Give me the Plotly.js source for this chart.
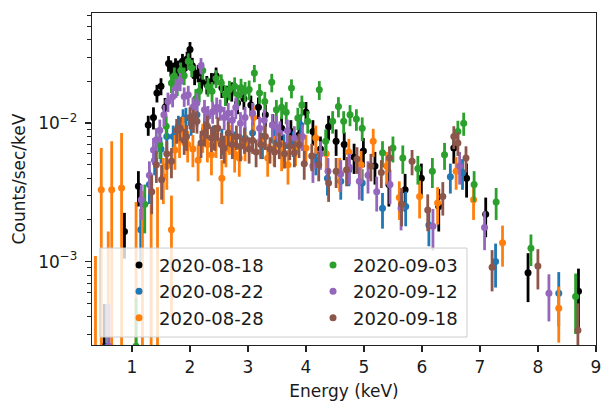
<!DOCTYPE html>
<html>
<head>
<meta charset="utf-8">
<script src="https://cdn.plot.ly/plotly-3.0.1.min.js"></script>
<style>html,body{margin:0;padding:0;background:#fff;}#chart{width:601px;height:402px;}</style>
</head>
<body>
<div id="chart"></div>
<script>
// Series labels (observation dates) and colours
const labels = ["2020-08-18", "2020-08-22", "2020-08-28", "2020-09-03", "2020-09-12", "2020-09-18"];

// 2020-08-18
const e0818 = [0.52,0.87,1.11,1.28,1.37,1.43,1.50,1.57,1.63,1.67,1.71,1.75,1.79,1.83,1.87,1.91,1.95,2.00,2.04,2.08,2.14,2.20,2.29,2.37,2.45,2.55,2.63,2.72,2.82,2.93,3.05,3.18,3.30,3.43,3.58,3.74,3.88,4.00,4.12,4.25,4.39,4.52,4.66,4.83,4.99,5.19,5.43,5.71,5.99,6.29,6.55,6.77,7.10,7.83,8.70];
const c0818 = [2.45e-4,1.65e-3,3.5e-3,9.7e-3,1.1e-2,1.65e-2,1.85e-2,1.3e-2,2.7e-2,2.5e-2,2.4e-2,2.6e-2,2.5e-2,2.3e-2,2.8e-2,2.5e-2,2.9e-2,3.4e-2,2.6e-2,2.2e-2,2.3e-2,2.0e-2,1.9e-2,2.0e-2,2.2e-2,1.8e-2,1.6e-2,1.7e-2,1.4e-2,1.5e-2,1.35e-2,1.3e-2,1.15e-2,9.7e-3,9.2e-3,8.7e-3,8.2e-3,1.2e-2,8.7e-3,6.5e-3,9.4e-3,7.4e-3,7.0e-3,5.7e-3,6.3e-3,4.9e-3,3.6e-3,3.3e-3,4.0e-3,2.5e-3,6.6e-3,4.0e-3,2.2e-3,8.3e-4,6.1e-4];
const r0818 = [2.5e-4,6e-4,1.0e-3,1.6e-3,2.0e-3,2.4e-3,2.6e-3,2.2e-3,3.5e-3,3.3e-3,3.3e-3,3.4e-3,3.3e-3,3.2e-3,3.6e-3,3.3e-3,3.8e-3,4.5e-3,3.6e-3,3.2e-3,3.3e-3,3.0e-3,2.9e-3,3.0e-3,3.2e-3,2.8e-3,2.6e-3,2.7e-3,2.4e-3,2.5e-3,2.3e-3,2.3e-3,2.1e-3,1.9e-3,1.8e-3,1.8e-3,1.7e-3,2.2e-3,1.8e-3,1.5e-3,1.9e-3,1.6e-3,1.6e-3,1.4e-3,1.5e-3,1.3e-3,1.1e-3,1.0e-3,1.1e-3,8.5e-4,1.5e-3,1.1e-3,7e-4,3.2e-4,2.8e-4];

// 2020-08-22
const e0822 = [0.58,1.15,1.30,1.39,1.50,1.60,1.71,1.80,1.88,1.93,2.02,2.12,2.25,2.40,2.55,2.77,2.95,3.08,3.25,3.45,3.62,3.78,3.91,4.17,4.37,4.60,4.74,4.97,5.32,5.72,6.12,6.49,6.70,7.27,8.36];
const c0822 = [2.45e-4,1.7e-3,3.6e-3,5.4e-3,6.5e-3,8.0e-3,8.0e-3,9.5e-3,1.06e-2,1.09e-2,1.0e-2,1.15e-2,9.0e-3,8.0e-3,7.5e-3,7.2e-3,7.8e-3,8.5e-3,7.0e-3,7.5e-3,6.8e-3,7.2e-3,9.7e-3,5.4e-3,4.0e-3,3.8e-3,4.6e-3,3.7e-3,2.43e-3,2.5e-3,1.84e-3,4.1e-3,4.4e-3,1.0e-3,5.9e-4];
const r0822 = [2.5e-4,7e-4,1.0e-3,1.2e-3,1.4e-3,1.6e-3,1.6e-3,1.8e-3,2.0e-3,2.0e-3,1.9e-3,2.1e-3,1.8e-3,1.6e-3,1.6e-3,1.5e-3,1.6e-3,1.7e-3,1.5e-3,1.6e-3,1.5e-3,1.5e-3,1.9e-3,1.2e-3,1.0e-3,1.0e-3,1.1e-3,9.5e-4,7e-4,7e-4,5.5e-4,1.0e-3,1.1e-3,3.5e-4,2.5e-4];

// 2020-08-28
const e0828 = [0.37,0.47,0.59,0.65,0.82,1.07,1.18,1.33,1.44,1.54,1.60,1.68,1.74,1.82,1.88,1.96,2.05,2.14,2.22,2.30,2.37,2.45,2.55,2.62,2.68,2.77,2.85,2.95,3.10,3.22,3.34,3.45,3.58,3.69,3.82,4.00,4.17,4.35,4.58,4.74,4.95,5.16,5.39,5.61,5.96,6.27,6.59,6.89,7.39,8.36];
const c0828 = [1.0e-4,3.3e-3,1.0e-4,3.3e-3,3.4e-3,1.5e-4,1.5e-4,1.5e-4,1.5e-4,4.1e-3,4.9e-3,1.7e-3,6.4e-3,7.6e-3,9.0e-3,7.0e-3,6.5e-3,5.4e-3,8.0e-3,7.0e-3,5.9e-3,7.5e-3,4.0e-3,6.5e-3,7.8e-3,6.0e-3,5.6e-3,7.0e-3,1.1e-2,7.5e-3,5.6e-3,6.5e-3,6.0e-3,5.0e-3,6.5e-3,6.6e-3,7.8e-3,6.0e-3,4.4e-3,6.2e-3,5.0e-3,7.4e-3,4.9e-3,2.9e-3,2.95e-3,2.65e-3,4.5e-3,2.8e-3,1.37e-3,4.6e-4];
const r0828 = [1.0e-3,3.3e-3,1.55e-3,4.1e-3,5.1e-3,2.55e-3,3.1e-3,2.4e-3,3.3e-3,1.5e-3,1.6e-3,1.3e-3,1.8e-3,2.0e-3,2.1e-3,1.8e-3,1.7e-3,1.6e-3,1.9e-3,1.8e-3,1.7e-3,1.9e-3,1.4e-3,1.7e-3,1.9e-3,1.6e-3,1.5e-3,1.7e-3,2.2e-3,1.8e-3,1.5e-3,1.6e-3,1.5e-3,1.4e-3,1.6e-3,1.6e-3,1.8e-3,1.5e-3,1.2e-3,1.5e-3,1.3e-3,1.7e-3,1.3e-3,9e-4,9e-4,8e-4,1.2e-3,8e-4,4.5e-4,2.0e-4];

// 2020-09-03
const e0903 = [1.07,1.22,1.48,1.59,1.68,1.73,1.78,1.84,1.90,1.97,2.03,2.10,2.16,2.22,2.31,2.38,2.45,2.54,2.61,2.68,2.77,2.83,2.88,2.95,3.02,3.11,3.20,3.29,3.41,3.49,3.58,3.66,3.75,3.86,3.93,4.03,4.23,4.34,4.46,4.56,4.65,4.76,4.87,4.97,5.32,5.50,5.67,5.93,6.18,6.39,6.62,6.72,6.90,7.28,7.88,8.65];
const c0903 = [2.45e-4,2.6e-3,7.0e-3,9.5e-3,1.95e-2,2.2e-2,1.86e-2,2.4e-2,2.2e-2,2.8e-2,2.5e-2,1.5e-2,1.7e-2,2.4e-2,1.84e-2,1.7e-2,2.1e-2,1.95e-2,1.6e-2,1.74e-2,1.85e-2,1.6e-2,1.8e-2,1.7e-2,1.75e-2,2.3e-2,1.65e-2,1.43e-2,1.97e-2,1.25e-2,1.3e-2,1.2e-2,1.79e-2,1.09e-2,1.35e-2,1.03e-2,1.74e-2,7.4e-3,1.03e-2,1.32e-2,1.03e-2,1.15e-2,1.07e-2,9.2e-3,6.1e-3,6.6e-3,5.6e-3,4.7e-3,4.5e-3,5.9e-3,8.7e-3,1.0e-2,3.6e-3,2.7e-3,1.25e-3,5.6e-4];
const r0903 = [3e-4,1.0e-3,1.5e-3,1.8e-3,3.0e-3,3.2e-3,2.9e-3,3.4e-3,3.2e-3,3.8e-3,3.5e-3,2.6e-3,2.8e-3,3.4e-3,2.9e-3,2.8e-3,3.1e-3,3.0e-3,2.7e-3,2.8e-3,2.9e-3,2.7e-3,2.9e-3,2.8e-3,2.8e-3,3.3e-3,2.7e-3,2.5e-3,3.0e-3,2.2e-3,2.3e-3,2.2e-3,2.8e-3,2.0e-3,2.3e-3,1.9e-3,2.7e-3,1.6e-3,1.9e-3,2.2e-3,1.9e-3,2.0e-3,1.9e-3,1.8e-3,1.3e-3,1.4e-3,1.3e-3,1.1e-3,1.1e-3,1.3e-3,1.7e-3,1.9e-3,9e-4,7e-4,3.2e-4,2.6e-4];

// 2020-09-12
const e0912 = [0.60,1.16,1.30,1.37,1.42,1.48,1.55,1.62,1.70,1.76,1.83,1.90,1.97,2.05,2.12,2.19,2.25,2.31,2.39,2.46,2.52,2.59,2.66,2.73,2.79,2.87,2.95,3.08,3.20,3.28,3.42,3.49,3.55,3.68,3.80,3.94,4.12,4.25,4.38,4.60,4.75,4.92,5.07,5.22,5.45,5.64,6.19,6.65,7.08,8.19];
const c0912 = [2.45e-4,2.8e-3,4.2e-3,6.4e-3,7.6e-3,8.9e-3,1.15e-2,1.43e-2,1.55e-2,1.8e-2,2.0e-2,1.56e-2,1.6e-2,1.3e-2,1.4e-2,2.6e-2,1.25e-2,1.12e-2,1.21e-2,1.3e-2,1.26e-2,1.1e-2,1.18e-2,1.05e-2,1.3e-2,1.0e-2,1.1e-2,1.18e-2,9.2e-3,1.05e-2,9.7e-3,9.4e-3,8.5e-3,8.8e-3,7.8e-3,8.0e-3,4.9e-3,6.0e-3,4.5e-3,4.3e-3,4.8e-3,3.8e-3,4.2e-3,3.2e-3,3.6e-3,2.43e-3,1.8e-3,4.9e-3,1.76e-3,5.9e-4];
const r0912 = [2.5e-4,8e-4,1.1e-3,1.4e-3,1.6e-3,1.7e-3,2.0e-3,2.3e-3,2.5e-3,2.8e-3,3.0e-3,2.5e-3,2.6e-3,2.3e-3,2.4e-3,3.5e-3,2.2e-3,2.1e-3,2.2e-3,2.3e-3,2.2e-3,2.1e-3,2.2e-3,2.0e-3,2.3e-3,2.0e-3,2.1e-3,2.2e-3,1.9e-3,2.0e-3,1.9e-3,1.9e-3,1.8e-3,1.8e-3,1.7e-3,1.7e-3,1.2e-3,1.4e-3,1.1e-3,1.1e-3,1.2e-3,1.0e-3,1.1e-3,9e-4,1.0e-3,7.5e-4,6e-4,1.3e-3,5.5e-4,2.2e-4];

// 2020-09-18
const e0918 = [1.34,1.42,1.51,1.60,1.68,1.77,1.83,1.90,1.94,2.00,2.06,2.12,2.19,2.25,2.30,2.37,2.43,2.48,2.54,2.59,2.66,2.73,2.80,2.87,2.94,3.02,3.08,3.14,3.22,3.30,3.38,3.46,3.54,3.63,3.72,3.80,3.88,3.97,4.10,4.22,4.39,4.52,4.70,4.88,5.12,5.30,5.44,5.65,5.83,6.10,6.36,6.55,6.62,6.76,7.21,8.00,8.69];
const c0918 = [3.2e-3,5.0e-3,3.9e-3,6.0e-3,5.3e-3,8.9e-3,9.2e-3,7.5e-3,8.0e-3,1.1e-2,1.05e-2,1.03e-2,7.2e-3,8.5e-3,9.5e-3,7.8e-3,8.0e-3,9.2e-3,7.0e-3,6.6e-3,8.5e-3,7.0e-3,8.0e-3,6.8e-3,7.6e-3,6.5e-3,7.5e-3,6.2e-3,7.0e-3,8.0e-3,6.5e-3,6.2e-3,7.0e-3,6.0e-3,6.8e-3,6.1e-3,7.0e-3,5.1e-3,5.8e-3,5.0e-3,3.7e-3,4.5e-3,4.6e-3,5.5e-3,4.9e-3,4.4e-3,5.6e-3,2.6e-3,5.3e-3,2.36e-3,2.95e-3,8.0e-3,7.2e-3,5.6e-3,9.1e-4,9.3e-4,3.2e-4];
const r0918 = [1.0e-3,1.3e-3,1.1e-3,1.4e-3,1.3e-3,1.8e-3,1.8e-3,1.6e-3,1.7e-3,2.0e-3,2.0e-3,1.9e-3,1.6e-3,1.7e-3,1.8e-3,1.6e-3,1.7e-3,1.8e-3,1.5e-3,1.5e-3,1.7e-3,1.5e-3,1.6e-3,1.5e-3,1.6e-3,1.4e-3,1.5e-3,1.4e-3,1.5e-3,1.6e-3,1.4e-3,1.4e-3,1.5e-3,1.3e-3,1.4e-3,1.3e-3,1.4e-3,1.2e-3,1.3e-3,1.2e-3,1.0e-3,1.1e-3,1.1e-3,1.2e-3,1.1e-3,1.0e-3,1.2e-3,8e-4,1.1e-3,7e-4,8e-4,1.5e-3,1.4e-3,1.2e-3,3e-4,3e-4,1.8e-4];

const xTicks = [1, 2, 3, 4, 5, 6, 7, 8, 9];
const yTicks = [1e-3, 1e-2];
const yTickText = ["10<sup>\u22123</sup>", "10<sup>\u22122</sup>"];
const yMinor = [3e-4,4e-4,5e-4,6e-4,7e-4,8e-4,9e-4,2e-3,3e-3,4e-3,5e-3,6e-3,7e-3,8e-3,9e-3,2e-2,3e-2,4e-2,5e-2,6e-2];

const colors = ["#000000", "#1f77b4", "#ff7f0e", "#2ca02c", "#9467bd", "#8c564b"];
const ranks = [1, 3, 5, 2, 4, 6];
const series = [[e0818,c0818,r0818],[e0822,c0822,r0822],[e0828,c0828,r0828],[e0903,c0903,r0903],[e0912,c0912,r0912],[e0918,c0918,r0918]];

const traces = series.map((s, i) => ({
  type: "scatter", mode: "markers",
  x: s[0], y: s[1], name: labels[i], legendrank: ranks[i],
  marker: {color: colors[i], size: 7},
  error_y: {type: "data", array: s[2], symmetric: true, color: colors[i], thickness: 2.8, width: 0},
  cliponaxis: true
}));

const font = {family: "DejaVu Sans, sans-serif", size: 17, color: "#1a1a1a"};
const layout = {
  width: 601, height: 402,
  margin: {l: 92, r: 5, t: 13, b: 57},
  paper_bgcolor: "#fff", plot_bgcolor: "#fff",
  font: font,
  showlegend: true,
  xaxis: {
    range: [0.31, 9.002], tickmode: "array", tickvals: xTicks,
    ticks: "outside", ticklen: 6, tickwidth: 1.3, tickcolor: "#222",
    ticklabeloverflow: "allow",
    showline: true, mirror: true, linecolor: "#222", linewidth: 1.3,
    showgrid: false, zeroline: false,
    title: {text: "Energy (keV)", font: font, standoff: 9}
  },
  yaxis: {
    type: "log", range: [Math.log10(2.5e-4), Math.log10(0.0624)],
    tickmode: "array", tickvals: yTicks, ticktext: yTickText,
    ticks: "outside", ticklen: 6, tickwidth: 1.3, tickcolor: "#222",
    minor: {tickmode: "array", tickvals: yMinor, ticks: "outside", ticklen: 3.5, tickwidth: 1, tickcolor: "#222", showgrid: false},
    showline: true, mirror: true, linecolor: "#222", linewidth: 1.3,
    showgrid: false, zeroline: false, ticklabelstandoff: 4,
    title: {text: "Counts/sec/keV", font: font, standoff: 8}
  },
  legend: {
    orientation: "h", x: 0.0536, xanchor: "left", y: 0.296, yanchor: "top",
    entrywidth: 149, entrywidthmode: "pixels",
    bgcolor: "rgba(0,0,0,0)", borderwidth: 0,
    font: {family: "DejaVu Sans, sans-serif", size: 18, color: "#1a1a1a"}
  },
  shapes: [{
    type: "rect", xref: "paper", yref: "paper", layer: "above",
    x0: 0.0159, x1: 0.744, y0: 0.024, y1: 0.292,
    fillcolor: "rgba(255,255,255,0.8)", line: {color: "#cccccc", width: 1}
  }]
};

Plotly.newPlot("chart", traces, layout, {displayModeBar: false, staticPlot: true});
</script>
</body>
</html>
